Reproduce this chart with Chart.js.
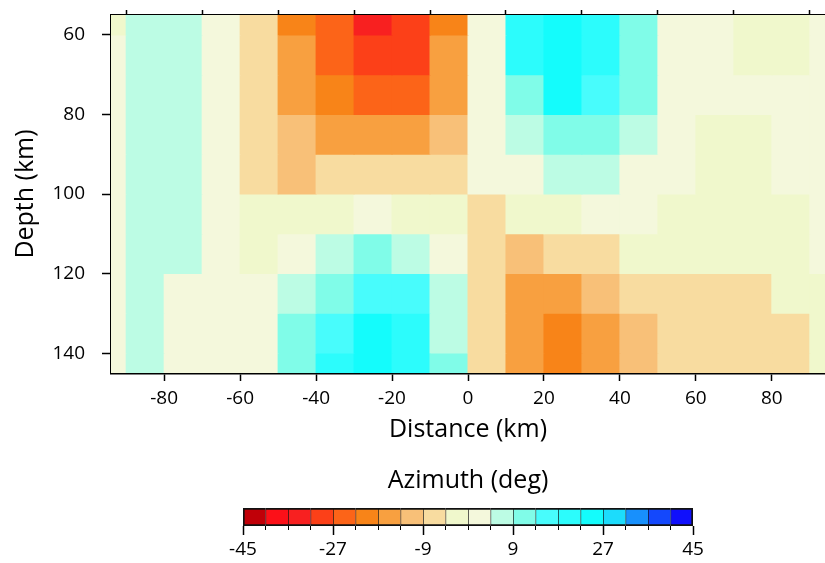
<!DOCTYPE html>
<html>
<head>
<meta charset="utf-8">
<script src="https://cdn.jsdelivr.net/npm/chart.js@4.4.1/dist/chart.umd.min.js"></script>
<style>
  html, body { margin: 0; padding: 0; background: #fff; }
  #wrap { position: relative; width: 825px; height: 563px; }
  #wrap canvas { position: absolute; left: 0; }
</style>
</head>
<body>
<div id="wrap">
  <canvas id="section" width="825" height="563" style="top:0"></canvas>
  <canvas id="colorbar" width="825" height="108" style="top:455px"></canvas>
</div>
<script>
// cell centres of the section grid (km)
const distance = [-95, -85, -75, -65, -55, -45, -35, -25, -15, -5, 5, 15, 25, 35, 45, 55, 65, 75, 85, 95];
const depth = [55, 65, 75, 85, 95, 105, 115, 125, 135, 145];

// azimuth (deg), one row per depth
const azimuth = [
  [-2, 7, 7, 2, -7, -20, -25, -34, -29, -20, 2, 20, 25, 20, 11, 2, 2, -2, -2, 2],
  [2, 7, 7, 2, -7, -16, -25, -29, -29, -16, 2, 20, 25, 20, 11, 2, 2, -2, -2, 2],
  [2, 7, 7, 2, -7, -16, -20, -25, -25, -16, 2, 11, 25, 16, 11, 2, 2, 2, 2, 2],
  [2, 7, 7, 2, -7, -11, -16, -16, -16, -11, 2, 7, 11, 11, 7, 2, -2, -2, 2, 2],
  [2, 7, 7, 2, -7, -11, -7, -7, -7, -7, 2, 2, 7, 7, 2, 2, -2, -2, 2, 2],
  [2, 7, 7, 2, -2, -2, -2, 2, -2, -2, -7, -2, -2, 2, 2, -2, -2, -2, -2, 2],
  [2, 7, 7, 2, -2, 2, 7, 11, 7, 2, -7, -11, -7, -7, -2, -2, -2, -2, -2, 2],
  [2, 7, 2, 2, 2, 7, 11, 16, 16, 7, -7, -16, -16, -11, -7, -7, -7, -7, -2, -2],
  [2, 7, 2, 2, 2, 11, 16, 25, 20, 7, -7, -16, -20, -16, -11, -7, -7, -7, -7, -2],
  [2, 7, 2, 2, 2, 11, 20, 25, 20, 11, -7, -16, -20, -16, -11, -7, -7, -7, -7, -2]
];

const distanceTicks = [-80, -60, -40, -20, 0, 20, 40, 60, 80];
const depthTicks = [60, 80, 100, 120, 140];

// colour classes of the azimuth palette
const azimuthBins = [-45, -40.5, -36, -31.5, -27, -22.5, -18, -13.5, -9, -4.5, 0, 4.5, 9, 13.5, 18, 22.5, 27, 31.5, 36, 40.5, 45];
const azimuthColors = ['#c00008', '#fc1018', '#f82020', '#fc4018', '#fc6418', '#f88418', '#f8a040', '#f8c078', '#f8dca0', '#f0f8cc',
                       '#f4f8dc', '#bcfce4', '#80fce8', '#48fcfc', '#2cfcfc', '#14fcfc', '#1cdcfc', '#1890fc', '#1448fc', '#1010fc'];
const azimuthTicks = [-45, -27, -9, 9, 27, 45];

Chart.defaults.font.family = "'Open Sans', sans-serif";
Chart.defaults.color = '#000';

function colorFor(v) {
  for (let i = 0; i < azimuthColors.length; i++) {
    if (v < azimuthBins[i + 1]) return azimuthColors[i];
  }
  return azimuthColors[azimuthColors.length - 1];
}

function fixedTicks(list) {
  return scale => { scale.ticks = list.map(v => ({ value: v })); };
}

// pin an axis box to a given size and drop the label overhang padding
function pinSize(prop, size) {
  return scale => {
    scale[prop] = size;
    scale.paddingTop = scale.paddingBottom = scale.paddingLeft = scale.paddingRight = 0;
  };
}

const halfCell = (depth[1] - depth[0]) / 2;

const rows = depth.map((d, r) => ({
  data: distance.map(x => ({ x: x, y: [d - halfCell, d + halfCell] })),
  backgroundColor: azimuth[r].map(colorFor),
  borderWidth: 0,
  inflateAmount: 0.5,
  grouped: false,
  barPercentage: 1,
  categoryPercentage: 1
}));

new Chart(document.getElementById('section'), {
  type: 'bar',
  data: { datasets: rows },
  options: {
    responsive: false,
    animation: false,
    layout: { padding: 0 },
    plugins: { legend: { display: false }, tooltip: { enabled: false } },
    scales: {
      x: {
        type: 'linear', position: 'bottom', min: -94, max: 94, offset: false,
        afterBuildTicks: fixedTicks(distanceTicks),
        afterFit: pinSize('height', 190),
        grid: { drawOnChartArea: false, offset: false, tickLength: 8, tickWidth: 1.5, tickColor: '#000' },
        border: { color: '#000', width: 2.5 },
        ticks: { font: { size: 19 }, padding: 6, maxRotation: 0 },
        title: { display: true, text: 'Distance (km)', font: { size: 25 }, padding: { top: 0, bottom: 118 } }
      },
      xTop: {
        type: 'linear', position: 'top', min: -94, max: 94, offset: false,
        afterBuildTicks: fixedTicks(distanceTicks),
        afterFit: pinSize('height', 15),
        grid: { drawOnChartArea: false, tickLength: 5, tickWidth: 1.5, tickColor: '#000' },
        border: { color: '#000', width: 2.5 },
        ticks: { display: false }
      },
      y: {
        type: 'linear', position: 'left', reverse: true, min: 55, max: 145,
        afterBuildTicks: fixedTicks(depthTicks),
        afterFit: pinSize('width', 111),
        grid: { drawOnChartArea: false, tickLength: 9, tickWidth: 1.5, tickColor: '#000' },
        border: { color: '#000', width: 2.5 },
        ticks: { font: { size: 19 }, padding: 17 },
        title: { display: true, text: 'Depth (km)', font: { size: 25 }, padding: { top: 11, bottom: 0 } }
      }
    }
  }
});

// colour scale legend
new Chart(document.getElementById('colorbar'), {
  type: 'bar',
  data: {
    labels: ['azimuth'],
    datasets: azimuthColors.map((c, i) => ({
      data: [[azimuthBins[i], azimuthBins[i + 1]]],
      backgroundColor: c,
      borderColor: '#111',
      borderWidth: { top: 2, bottom: 2, left: i === 0 ? 2 : 1, right: i === azimuthColors.length - 1 ? 2 : 0 },
      borderSkipped: false,
      grouped: false,
      barPercentage: 1,
      categoryPercentage: 1
    }))
  },
  options: {
    indexAxis: 'y',
    responsive: false,
    animation: false,
    layout: { padding: { left: 243, right: 132, top: 0, bottom: 0 } },
    plugins: {
      legend: { display: false },
      tooltip: { enabled: false },
      title: { display: true, text: 'Azimuth (deg)', color: '#000', font: { size: 25, weight: 'normal' }, padding: { top: 11, bottom: 12 } }
    },
    scales: {
      y: { display: false },
      x: {
        type: 'linear', position: 'bottom', min: -45, max: 45, weight: 1,
        afterBuildTicks: fixedTicks(azimuthTicks),
        afterFit: pinSize('height', 37),
        grid: { drawOnChartArea: false, tickLength: 9, tickWidth: 1.5, tickColor: '#000' },
        border: { display: false },
        ticks: { font: { size: 19 }, padding: 3, maxRotation: 0 }
      },
      xMinor: {
        type: 'linear', position: 'bottom', min: -45, max: 45, weight: 0,
        afterBuildTicks: fixedTicks(azimuthBins),
        afterFit: pinSize('height', 0),
        grid: { drawOnChartArea: false, tickLength: 4, tickWidth: 1, tickColor: '#000' },
        border: { display: false },
        ticks: { display: false }
      }
    }
  }
});
</script>
</body>
</html>
